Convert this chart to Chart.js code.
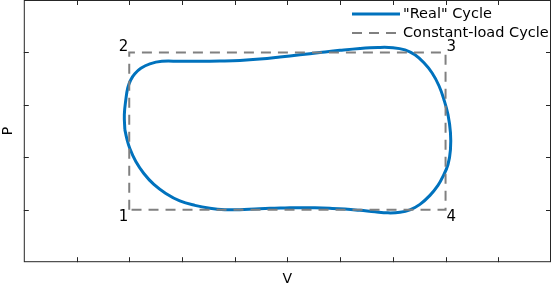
<!DOCTYPE html>
<html>
<head>
<meta charset="utf-8">
<script src="https://cdn.jsdelivr.net/npm/chart.js@4"></script>
<style>
  html, body { margin: 0; padding: 0; background: #fff; }
  #wrap { width: 552px; height: 288px; }
</style>
</head>
<body>
<div id="wrap"><canvas id="pv"></canvas></div>
<script>
// "Real" cycle (clockwise from the left side)
const realV = [1.917, 1.907, 1.935, 1.973, 2.030, 2.106, 2.220, 2.391, 2.619, 2.960, 3.340, 3.719,
  4.099, 4.478, 4.858, 5.237, 5.617, 5.996, 6.376, 6.717, 7.002, 7.230, 7.419, 7.590, 7.742,
  7.875, 7.970, 8.046, 8.093, 8.093, 8.046, 7.951, 7.856, 7.704, 7.514, 7.324, 7.135, 6.907,
  6.660, 6.376, 6.091, 5.806, 5.522, 5.237, 4.953, 4.668, 4.383, 4.099, 3.814, 3.529, 3.245,
  2.960, 2.694, 2.467, 2.277, 2.125, 2.011, 1.954, 1.917];
const realP = [2.529, 2.814, 3.099, 3.327, 3.479, 3.593, 3.698, 3.783, 3.831, 3.831, 3.831, 3.837,
  3.848, 3.873, 3.911, 3.954, 3.998, 4.040, 4.076, 4.095, 4.091, 4.049, 3.954, 3.802, 3.612,
  3.365, 3.099, 2.814, 2.471, 2.148, 1.863, 1.635, 1.464, 1.274, 1.103, 0.998, 0.951, 0.941,
  0.960, 0.989, 1.013, 1.027, 1.036, 1.040, 1.034, 1.027, 1.015, 1.002, 1.002, 1.030, 1.084,
  1.169, 1.312, 1.483, 1.692, 1.920, 2.167, 2.357, 2.529];

// constant-load cycle corners
const rectV = [2, 2, 8, 8, 2];
const rectP = [1, 4, 4, 1, 1];
const cornerLabels = ['1', '2', '3', '4'];

const seriesNames = ['"Real" Cycle', 'Constant-load Cycle'];
const xTicks = [1, 2, 3, 4, 5, 6, 7, 8, 9];
const yTicks = [1, 2, 3, 4];

const toPoints = (xs, ys) => xs.map((x, i) => ({ x: x, y: ys[i] }));

const axisColor = '#262626';
const fontFamily = '"DejaVu Sans", sans-serif';

// box, inward ticks on all four sides, corner numbers and the legend
const decorations = {
  id: 'decorations',
  afterDatasetsDraw(chart) {
    const { ctx, chartArea: a, scales: { x, y } } = chart;
    ctx.save();
    ctx.strokeStyle = axisColor;
    ctx.lineWidth = 1;
    ctx.strokeRect(a.left + 0.5, a.top + 0.5, a.right - a.left - 1, a.bottom - a.top - 1);
    ctx.beginPath();
    xTicks.forEach(v => {
      const px = Math.round(x.getPixelForValue(v)) + 0.5;
      ctx.moveTo(px, a.bottom); ctx.lineTo(px, a.bottom - 5);
      ctx.moveTo(px, a.top); ctx.lineTo(px, a.top + 5);
    });
    yTicks.forEach(v => {
      const py = Math.round(y.getPixelForValue(v)) + 0.5;
      ctx.moveTo(a.left, py); ctx.lineTo(a.left + 5, py);
      ctx.moveTo(a.right, py); ctx.lineTo(a.right - 5, py);
    });
    ctx.stroke();

    // corner numbers
    ctx.fillStyle = '#000';
    ctx.font = '15px ' + fontFamily;
    const align = [['right', 'top'], ['right', 'bottom'], ['left', 'bottom'], ['left', 'top']];
    cornerLabels.forEach((lab, i) => {
      const px = x.getPixelForValue(rectV[i]);
      const py = y.getPixelForValue(rectP[i]);
      ctx.textAlign = align[i][0];
      ctx.textBaseline = align[i][1];
      ctx.fillText(lab, px + (align[i][0] === 'left' ? 1 : -1), py + (align[i][1] === 'top' ? 0 : 2));
    });

    // legend
    ctx.font = '14.5px ' + fontFamily;
    ctx.textAlign = 'left';
    ctx.textBaseline = 'middle';
    chart.data.datasets.forEach((ds, i) => {
      const ly = 14 + i * 19;
      ctx.strokeStyle = ds.borderColor;
      ctx.lineWidth = ds.borderWidth;
      ctx.setLineDash(ds.borderDash || []);
      ctx.beginPath();
      ctx.moveTo(352, ly); ctx.lineTo(400, ly);
      ctx.stroke();
      ctx.setLineDash([]);
      ctx.fillStyle = '#000';
      ctx.fillText(ds.label, 403, ly);
    });
    ctx.restore();
  }
};

new Chart(document.getElementById('pv'), {
  type: 'scatter',
  data: {
    datasets: [
      {
        label: seriesNames[0],
        data: toPoints(realV, realP),
        showLine: true,
        borderColor: '#0072BD',
        borderWidth: 3,
        tension: 0.4,
        pointRadius: 0,
        order: 2
      },
      {
        label: seriesNames[1],
        data: toPoints(rectV, rectP),
        showLine: true,
        borderColor: '#808080',
        borderWidth: 2,
        borderDash: [10, 7],
        tension: 0,
        pointRadius: 0,
        order: 1
      }
    ]
  },
  options: {
    responsive: true,
    maintainAspectRatio: false,
    animation: false,
    layout: { padding: { top: 0, right: 1, bottom: 0, left: 0 } },
    plugins: { legend: { display: false }, tooltip: { enabled: false } },
    scales: {
      x: {
        min: 0, max: 10,
        grid: { display: false, drawTicks: false },
        border: { display: false },
        ticks: { display: false },
        title: { display: true, text: 'V', color: '#000', font: { family: fontFamily, size: 14 }, padding: { top: 9, bottom: 0 } }
      },
      y: {
        min: 0, max: 5,
        grid: { display: false, drawTicks: false },
        border: { display: false },
        ticks: { display: false },
        title: { display: true, text: 'P', color: '#000', font: { family: fontFamily, size: 14 }, padding: { top: 0, bottom: 7 } }
      }
    }
  },
  plugins: [decorations]
});
</script>
</body>
</html>
